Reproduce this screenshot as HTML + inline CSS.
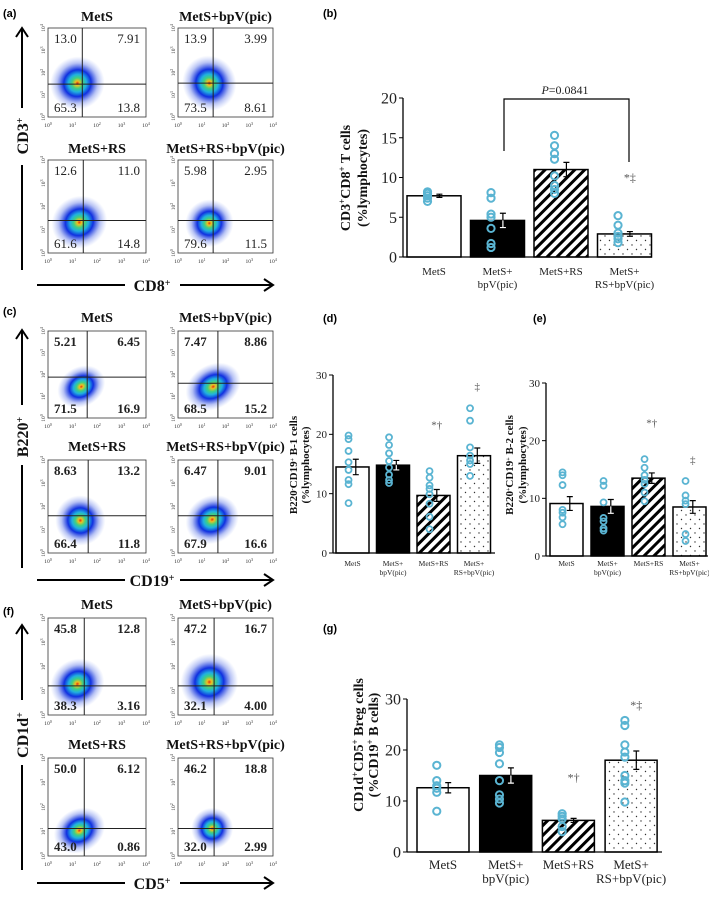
<!DOCTYPE html>
<html><head><meta charset="utf-8">
<style>
html,body{margin:0;padding:0;background:#fff;}
svg{display:block;}
text{font-family:"Liberation Serif",serif;}
.lab{font-family:"Liberation Sans",sans-serif;font-weight:bold;font-size:11px;}
</style></head>
<body>
<svg id="fig" width="709" height="898" viewBox="0 0 709 898" xmlns="http://www.w3.org/2000/svg">
<defs>
<pattern id="hatch" patternUnits="userSpaceOnUse" width="7" height="7" patternTransform="rotate(45)">
<rect width="7" height="7" fill="#fff"/><rect x="0" y="0" width="3" height="7" fill="#000"/>
</pattern>
<pattern id="dots" patternUnits="userSpaceOnUse" width="9" height="9">
<rect width="9" height="9" fill="#fff"/><circle cx="2" cy="2" r="0.7" fill="#333"/><circle cx="6.5" cy="6.5" r="0.7" fill="#333"/>
</pattern>
<radialGradient id="cloud">
<stop offset="0" stop-color="#e03010"/>
<stop offset="0.08" stop-color="#f0c020"/>
<stop offset="0.2" stop-color="#40d080"/>
<stop offset="0.33" stop-color="#20b0e0"/>
<stop offset="0.5" stop-color="#1030e0"/>
<stop offset="0.75" stop-color="#3050e0" stop-opacity="0.35"/>
<stop offset="1" stop-color="#6080f0" stop-opacity="0"/>
</radialGradient>
</defs>
<text class="lab" x="3" y="17">(a)</text>
<text class="lab" x="323" y="17">(b)</text>
<text class="lab" x="3" y="315">(c)</text>
<text class="lab" x="323" y="322">(d)</text>
<text class="lab" x="533" y="322">(e)</text>
<text class="lab" x="3" y="615">(f)</text>
<text class="lab" x="323" y="632">(g)</text>
</svg>
<script>
// ---- Bar chart data ----
var groups = ["MetS","MetS+\nbpV(pic)","MetS+RS","MetS+\nRS+bpV(pic)"];
var bMeans = [7.7, 4.6, 11.0, 2.9];
var bErrs = [0.2, 0.9, 0.9, 0.3];
var bPoints = [[8.2,8.0,7.7,7.4,7.0],[8.1,7.4,5.4,5.0,3.6,1.7,1.2],[15.3,14.0,13.0,12.3,10.2,9.0,8.5,8.0],[5.2,4.0,3.0,2.6,2.3,1.8]];
var bTicks = [0,5,10,15,20];
var bSig = ["","","","*‡"];
var bSigVal = [0,0,0,9.5];

var dMeans = [14.5, 14.8, 9.7, 16.4];
var dErrs = [1.3, 0.8, 1.0, 1.3];
var dPoints = [[19.8,19.2,17.2,15.3,14.0,12.3,11.6,8.4],[19.5,18.2,16.8,15.5,14.4,13.2,12.3,11.8],[13.8,12.7,11.4,10.8,9.9,8.3,6.1,4.0],[24.4,22.3,17.8,16.4,15.6,15.0,13.0]];
var dTicks = [0,10,20,30];
var dSig = ["","","*†","‡"];
var dSigVal = [0,0,21.0,27.5];

var eMeans = [9.1, 8.6, 13.5, 8.5];
var eErrs = [1.2, 1.2, 0.9, 1.1];
var ePoints = [[14.5,14.0,12.3,8.0,7.5,6.7,5.5],[13.0,12.2,9.3,6.6,6.0,4.8,4.4],[16.8,15.3,14.0,13.2,12.5,11.0,9.5],[13.0,10.5,9.6,9.0,3.8,2.6]];
var eTicks = [0,10,20,30];
var eSig = ["","","*†","‡"];
var eSigVal = [0,0,22.5,16.0];

var gMeans = [12.6, 15.0, 6.2, 18.0];
var gErrs = [1.0, 1.5, 0.4, 1.8];
var gPoints = [[17.0,14.0,13.0,12.5,11.7,8.0],[21.0,20.5,19.5,17.3,14.0,11.2,10.4,9.6],[7.5,7.0,6.5,5.0,4.0],[25.8,24.8,21.0,19.6,18.6,15.0,14.0,13.5,9.8]];
var gTicks = [0,10,20,30];
var gSig = ["","","*†","*‡"];
var gSigVal = [0,0,13.8,28.0];

var fills = ["#fff","#000","url(#hatch)","url(#dots)"];
var NS = "http://www.w3.org/2000/svg";
var svg = document.getElementById("fig");
function mk(tag, attrs, parent){
  var e = document.createElementNS(NS, tag);
  for (var k in attrs) e.setAttribute(k, attrs[k]);
  (parent||svg).appendChild(e);
  return e;
}

function barChart(id, c, means, errs, points, ticks, sig, sigVal){
  var g = mk("g", {});
  
  
  function Y(v){ return c.base - v / c.max * (c.base - c.top); }
  function bx(i){ return c.left0 + i * c.step; }
  var ya = mk("line", {x1:c.ax, y1:Y(c.max), x2:c.ax, y2:c.base, stroke:"#000", "stroke-width":1.3}, g);
  
  
  ticks.forEach(function(t){
    var tl = mk("line", {x1:c.ax-4, y1:Y(t), x2:c.ax, y2:Y(t), stroke:"#000", "stroke-width":1}, g);
    
    
    var tt = mk("text", {x:c.ax-6, y:Y(t)+c.tfs*0.35, "text-anchor":"end", "font-size":c.tfs, fill:"#222"}, g);
    tt.textContent = t;
    
    
  });
  means.forEach(function(m, i){
    var x = bx(i);
    var r = mk("rect", {x:x, y:Y(m), width:c.w, height:c.base - Y(m), fill:fills[i], stroke:"#000", "stroke-width":1.5}, g);
    
    
    var cx = x + c.w/2 + c.w*0.1;
    var eb = mk("path", {d:"M"+cx+" "+Y(m-errs[i])+"V"+Y(m+errs[i])+"M"+(cx-3)+" "+Y(m+errs[i])+"h6M"+(cx-3)+" "+Y(m-errs[i])+"h6", stroke: i==1?"#fff":"#000", "stroke-width":1.2, fill:"none"}, g);
    
    
    if (i==1){
      var eb2 = mk("path", {d:"M"+cx+" "+Y(m)+"V"+Y(m+errs[i])+"M"+(cx-3)+" "+Y(m+errs[i])+"h6", stroke:"#000", "stroke-width":1.2, fill:"none"}, g);
      
      
    }
    points[i].forEach(function(p){
      var pc = mk("circle", {cx:x + c.w/2 - c.w*0.12, cy:Y(p), r:c.pr, fill:"none", stroke:"#5ab4d2", "stroke-width":c.pw}, g);
      
      
    });
    var lines = groups[i].split("\n");
    lines.forEach(function(L, k){
      var tx = mk("text", {x:x + c.w/2, y:c.lab0 + k*c.labdy, "text-anchor":"middle", "font-size":c.lfs, fill:"#222"}, g);
      tx.textContent = L;
      
      
    });
    if (sig[i]){
      var st = mk("text", {x:x + c.w/2 + c.w*0.1, y:Y(sigVal[i]), "text-anchor":"middle", "font-size":c.sfs, fill:"#555"}, g);
      st.textContent = sig[i];
      
      
    }
  });
  var xa = mk("line", {x1:c.ax, y1:c.base, x2:c.end, y2:c.base, stroke:"#000", "stroke-width":1.3}, g);
  
  
  c.ytitle.forEach(function(L, k){
    var t = mk("text", {x:0, y:0, transform:"translate("+c.yt[k]+","+c.ytc+") rotate(-90)", "text-anchor":"middle", "font-size":c.yfs, "font-weight":"bold", fill:"#111"}, g);
    t.innerHTML = L;
    
    
  });
  return Y;
}

barChart("chart-b", {ax:403, base:257, top:98, max:20, left0:407, step:63.5, w:54, end:652, tfs:16, lfs:11, lab0:275, labdy:13, pr:3.6, pw:2, sfs:12,
  ytitle:['CD3<tspan baseline-shift="super" font-size="9">+</tspan>CD8<tspan baseline-shift="super" font-size="9">+</tspan> T cells','(%lymphocytes)'], yt:[350,367], ytc:178, yfs:14}, bMeans, bErrs, bPoints, bTicks, bSig, bSigVal);
barChart("chart-d", {ax:333, base:553, top:375, max:30, left0:336, step:40.5, w:33, end:495, tfs:11, lfs:7.5, lab0:566, labdy:9, pr:3, pw:1.8, sfs:11,
  ytitle:['B220<tspan baseline-shift="super" font-size="6">-</tspan>CD19<tspan baseline-shift="super" font-size="6">+</tspan> B-1 cells','(%lymphocytes)'], yt:[297,309], ytc:465, yfs:11}, dMeans, dErrs, dPoints, dTicks, dSig, dSigVal);
barChart("chart-e", {ax:546, base:556, top:383, max:30, left0:550, step:41, w:33, end:708, tfs:11, lfs:7.5, lab0:566, labdy:9, pr:3, pw:1.8, sfs:11,
  ytitle:['B220<tspan baseline-shift="super" font-size="6">+</tspan>CD19<tspan baseline-shift="super" font-size="6">+</tspan> B-2 cells','(%lymphocytes)'], yt:[513,526], ytc:465, yfs:11}, eMeans, eErrs, ePoints, eTicks, eSig, eSigVal);
barChart("chart-g", {ax:407, base:852, top:699, max:30, left0:417, step:62.7, w:52, end:662, tfs:16, lfs:13, lab0:869, labdy:14, pr:3.6, pw:2, sfs:12,
  ytitle:['CD1d<tspan baseline-shift="super" font-size="9">+</tspan>CD5<tspan baseline-shift="super" font-size="9">+</tspan> Breg cells','(%CD19<tspan baseline-shift="super" font-size="9">+</tspan> B cells)'], yt:[363,378], ytc:745, yfs:14}, gMeans, gErrs, gPoints, gTicks, gSig, gSigVal);

var br = mk("path", {d:"M504 151V99H629V162", stroke:"#000", "stroke-width":1.2, fill:"none"});


var pv = mk("text", {x:565, y:94, "text-anchor":"middle", "font-size":12, fill:"#222"});
pv.innerHTML = '<tspan font-style="italic">P</tspan>=0.0841';



// ---- Flow cytometry panels ----
var flowTitles = ["MetS","MetS+bpV(pic)","MetS+RS","MetS+RS+bpV(pic)"];
var flowA = [["13.0","7.91","65.3","13.8"],["13.9","3.99","73.5","8.61"],["12.6","11.0","61.6","14.8"],["5.98","2.95","79.6","11.5"]];
var flowC = [["5.21","6.45","71.5","16.9"],["7.47","8.86","68.5","15.2"],["8.63","13.2","66.4","11.8"],["6.47","9.01","67.9","16.6"]];
var flowF = [["45.8","12.8","38.3","3.16"],["47.2","16.7","32.1","4.00"],["50.0","6.12","43.0","0.86"],["46.2","18.8","32.0","2.99"]];

function flowPanel(id, P, nums, bold, xlab, ylab){
  var g = mk("g", {});
  
  
  for (var i=0;i<4;i++){
    var bx = i%2==0 ? 48 : 178;
    var bw = i%2==0 ? 98 : 95;
    var by = i<2 ? P.y1 : P.y2;
    var bh = i<2 ? P.h1 : P.h2;
    var q = P.q[i];
    var tt = mk("text", {x:bx+bw/2, y:by - (i<2?P.t1:P.t2), "text-anchor":"middle", "font-size":14, "font-weight":"bold", fill:"#111"}, g);
    tt.textContent = flowTitles[i];
    
    
    var ccx = bx+bw*q[2], ccy = by+bh*q[3];
    var cl = mk("ellipse", {cx:ccx, cy:ccy, rx:bw*q[4]*0.85, ry:bh*q[5]*0.85, fill:"url(#cloud)", transform:"rotate(-30 "+ccx+" "+ccy+")"}, g);
    
    
    var bxr = mk("rect", {x:bx, y:by, width:bw, height:bh, fill:"none", stroke:"#333", "stroke-width":0.8}, g);
    
    
    var ql = mk("path", {d:"M"+(bx+bw*q[0])+" "+by+"v"+bh+"M"+bx+" "+(by+bh*q[1])+"h"+bw, stroke:"#222", "stroke-width":1}, g);
    
    
    var pos = [[bx+6,by+15,"start"],[bx+bw-6,by+15,"end"],[bx+6,by+bh-5,"start"],[bx+bw-6,by+bh-5,"end"]];
    for (var k=0;k<4;k++){
      var nt = mk("text", {x:pos[k][0], y:pos[k][1], "text-anchor":pos[k][2], "font-size":13, "font-weight":bold?"bold":"normal", fill:"#222"}, g);
      nt.textContent = nums[i][k];
      
      
    }
    for (var k=0;k<5;k++){
      var xt = mk("text", {x:bx+bw*k/4, y:by+bh+10, "text-anchor":"middle", "font-size":5.5, fill:"#333"}, g);
      xt.innerHTML = '10<tspan baseline-shift="super" font-size="4">'+k+'</tspan>';
      
      
      var yy = by+bh-bh*k/4;
      var yt = mk("text", {x:0, y:0, transform:"translate("+(bx-3)+","+yy+") rotate(-90)", "text-anchor":"middle", "font-size":5.5, fill:"#333"}, g);
      yt.innerHTML = '10<tspan baseline-shift="super" font-size="4">'+k+'</tspan>';
      
      
    }
  }
  var ay = P.arrow;
  var ax = mk("path", {d:"M37 "+ay+"H125M180 "+ay+"H272M264 "+(ay-6)+"L273 "+ay+"L264 "+(ay+6), stroke:"#000", "stroke-width":2, fill:"none"}, g);
  
  
  var xl = mk("text", {x:152, y:ay+6, "text-anchor":"middle", "font-size":16, "font-weight":"bold", fill:"#111"}, g);
  xl.innerHTML = xlab + '<tspan baseline-shift="super" font-size="10">+</tspan>';
  
  
  var vx = 22;
  var vy = mk("path", {d:"M"+vx+" "+P.vb+"V"+P.vl2+"M"+vx+" "+P.vl1+"V"+P.vt+"M"+(vx-6)+" "+(P.vt+9)+"L"+vx+" "+P.vt+"L"+(vx+6)+" "+(P.vt+9), stroke:"#000", "stroke-width":2, fill:"none"}, g);
  
  
  var yl = mk("text", {x:0, y:0, transform:"translate("+(vx+6)+","+P.vc+") rotate(-90)", "text-anchor":"middle", "font-size":16, "font-weight":"bold", fill:"#111"}, g);
  yl.innerHTML = ylab + '<tspan baseline-shift="super" font-size="10">+</tspan>';
  
  
}

flowPanel("flow-panel-a", {y1:28, h1:89, y2:160, h2:93, t1:7, t2:7, arrow:285, vt:28, vl1:108, vl2:165, vb:270, vc:136,
  q:[[0.35,0.63,0.3,0.62,0.33,0.35],[0.37,0.62,0.33,0.62,0.33,0.37],[0.36,0.65,0.32,0.67,0.34,0.33],[0.37,0.65,0.33,0.68,0.3,0.3]]},
  flowA, false, "CD8", "CD3");
flowPanel("flow-panel-c", {y1:331, h1:87, y2:460, h2:93, t1:9, t2:9, arrow:580, vt:330, vl1:405, vl2:465, vb:568, vc:437,
  q:[[0.4,0.53,0.34,0.64,0.3,0.27],[0.42,0.6,0.37,0.64,0.36,0.3],[0.41,0.6,0.33,0.65,0.3,0.32],[0.42,0.6,0.36,0.64,0.34,0.3]]},
  flowC, true, "CD19", "B220");
flowPanel("flow-panel-f", {y1:618, h1:97, y2:758, h2:98, t1:9, t2:9, arrow:883, vt:625, vl1:700, vl2:765, vb:870, vc:735,
  q:[[0.37,0.7,0.3,0.68,0.33,0.3],[0.38,0.7,0.33,0.66,0.36,0.34],[0.37,0.72,0.32,0.74,0.32,0.26],[0.38,0.72,0.36,0.72,0.26,0.25]]},
  flowF, true, "CD5", "CD1d");
</script>
</body></html>
